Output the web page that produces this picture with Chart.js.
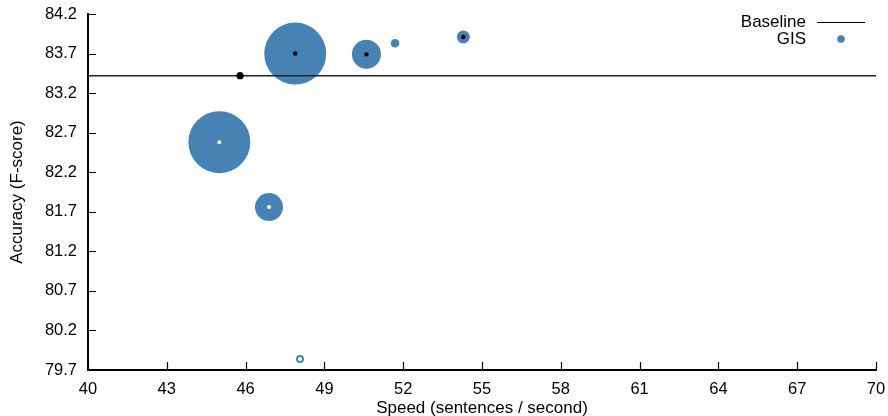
<!DOCTYPE html>
<html>
<head>
<meta charset="utf-8">
<script src="https://cdn.jsdelivr.net/npm/chart.js@4/dist/chart.umd.min.js"></script>
<style>
html,body{margin:0;padding:0;background:#fff;}
#wrap{width:888px;height:416px;position:relative;}
</style>
</head>
<body>
<div id="wrap"><canvas id="c" width="888" height="416"></canvas></div>
<script>
// ---- data ----
const xTicks = [40, 43, 46, 49, 52, 55, 58, 61, 64, 67, 70];
const yTicks = [79.7, 80.2, 80.7, 81.2, 81.7, 82.2, 82.7, 83.2, 83.7, 84.2];
const baselineValue = 83.42;
const baselinePointX = [45.79];
const baselinePointY = [83.42];
const gisX = [47.89, 50.60, 51.69, 54.29, 45.00, 46.89, 48.07];
const gisY = [83.70, 83.69, 83.83, 83.91, 82.58, 81.76, 79.84];
const gisSize = [31, 14.5, 4.3, 6.5, 31, 14, 3];
const gisHollow = [false, false, false, false, false, false, true];
const centerColor = ['#000', '#000', null, '#000', '#fff', '#fff', null];
const seriesLabels = ['Baseline', 'GIS'];

const BLUE = '#4682b4';
const FONT = '"Liberation Sans", Arial, Helvetica, sans-serif';

const gisData = gisX.map((x, i) => ({x: x, y: gisY[i], r: gisSize[i]}));
const centerData = [];
const centerColors = [];
gisX.forEach((x, i) => { if (centerColor[i]) { centerData.push({x: x, y: gisY[i]}); centerColors.push(centerColor[i]); } });
baselinePointX.forEach((x, i) => { centerData.push({x: x, y: baselinePointY[i]}); centerColors.push('#000'); });
const centerRadii = centerData.map((d, i) => i === centerData.length - 1 ? 3.6 : (centerColors[i] === '#fff' ? 2 : 2.2));

const innerTicks = {
  id: 'innerTicks',
  afterDraw(chart) {
    const {ctx, chartArea: a} = chart;
    const sx = chart.scales.x, sy = chart.scales.y;
    ctx.save();
    ctx.strokeStyle = '#000';
    ctx.lineWidth = 1.2;
    ctx.beginPath();
    sx.ticks.forEach(t => {
      const px = Math.round(sx.getPixelForValue(t.value)) + 0.5;
      ctx.moveTo(px, a.bottom); ctx.lineTo(px, a.bottom - 8);
    });
    sy.ticks.forEach(t => {
      const py = Math.round(sy.getPixelForValue(t.value)) + 0.5;
      ctx.moveTo(a.left, py); ctx.lineTo(a.left + 8, py);
    });
    ctx.stroke();
    ctx.restore();
  }
};

const customLegend = {
  id: 'customLegend',
  afterDraw(chart) {
    const {ctx} = chart;
    ctx.save();
    ctx.font = '17px ' + FONT;
    ctx.fillStyle = '#000';
    ctx.textAlign = 'right';
    ctx.textBaseline = 'middle';
    ctx.fillText(seriesLabels[0], 806, 22);
    ctx.fillText(seriesLabels[1], 806, 39);
    ctx.strokeStyle = '#000';
    ctx.lineWidth = 1.2;
    ctx.beginPath(); ctx.moveTo(817, 22.5); ctx.lineTo(865, 22.5); ctx.stroke();
    ctx.fillStyle = BLUE;
    ctx.beginPath(); ctx.arc(841, 39, 3.8, 0, Math.PI * 2); ctx.fill();
    ctx.restore();
  }
};

function zeroPad(s) { s.paddingLeft = 0; s.paddingRight = 0; s.paddingTop = 0; s.paddingBottom = 0; }

Chart.defaults.font.family = FONT;
Chart.defaults.font.size = 17;
Chart.defaults.color = '#000';

new Chart(document.getElementById('c'), {
  type: 'bubble',
  data: {
    datasets: [
      {
        type: 'scatter',
        label: 'centers',
        data: centerData,
        pointRadius: centerRadii,
        pointBackgroundColor: centerColors,
        pointBorderWidth: 0,
        order: 1
      },
      {
        type: 'line',
        label: seriesLabels[0],
        data: [{x: xTicks[0], y: baselineValue}, {x: xTicks[xTicks.length - 1], y: baselineValue}],
        borderColor: '#222',
        borderWidth: 1.4,
        pointRadius: 0,
        fill: false,
        order: 2
      },
      {
        type: 'bubble',
        label: seriesLabels[1],
        data: gisData,
        backgroundColor: gisHollow.map(h => h ? '#fff' : BLUE),
        borderColor: BLUE,
        borderWidth: gisHollow.map(h => h ? 2 : 0),
        order: 3
      }
    ]
  },
  options: {
    responsive: false,
    animation: false,
    events: [],
    layout: {autoPadding: false, padding: {left: 0, right: 12, top: 14, bottom: 0}},
    plugins: {legend: {display: false}, tooltip: {enabled: false}},
    scales: {
      x: {
        type: 'linear',
        min: xTicks[0], max: xTicks[xTicks.length - 1],
        afterBuildTicks: s => { s.ticks = xTicks.map(v => ({value: v})); },
        afterFit: s => { s.height = 46; zeroPad(s); },
        grid: {display: false, drawTicks: false},
        border: {display: true, color: '#000', width: 2},
        ticks: {padding: 10, maxRotation: 0, autoSkip: false, font: {size: 16.5}, callback: v => String(v)},
        title: {display: true, text: 'Speed (sentences / second)', padding: {top: 0, bottom: -3}, font: {size: 17}}
      },
      y: {
        type: 'linear',
        min: yTicks[0], max: yTicks[yTicks.length - 1],
        afterBuildTicks: s => { s.ticks = yTicks.map(v => ({value: v})); },
        afterFit: s => { s.width = 88; zeroPad(s); },
        grid: {display: false, drawTicks: false},
        border: {display: true, color: '#000', width: 2},
        ticks: {padding: 11, autoSkip: false, font: {size: 16.5}, callback: v => Number(v).toFixed(1)},
        title: {display: true, text: 'Accuracy (F-score)', padding: {top: 7, bottom: 0}, font: {size: 17}}
      }
    }
  },
  plugins: [innerTicks, customLegend]
});
</script>
</body>
</html>
